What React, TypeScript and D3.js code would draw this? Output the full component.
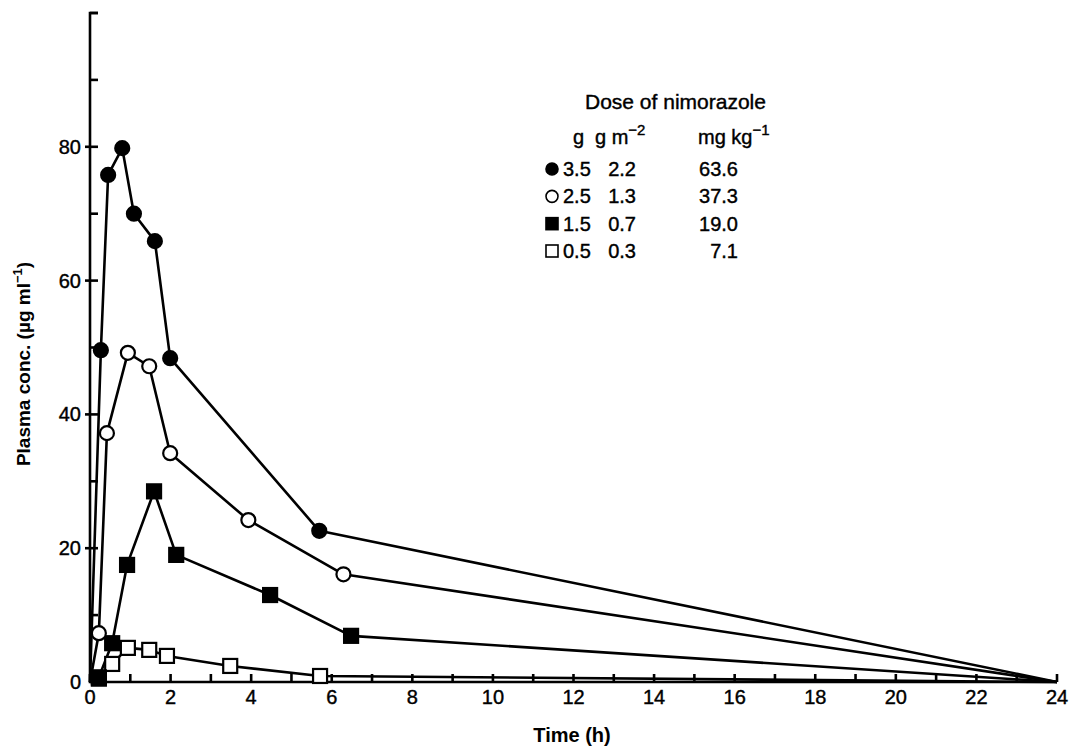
import React, { useRef, useEffect } from 'react';
import * as d3 from 'd3';

// tick values
const xMinorTicks = d3.range(0, 25, 1);
const xLabelTicks = [0, 2, 4, 6, 8, 10, 12, 14, 16, 18, 20, 22, 24];
const yMinorTicks = [10, 30, 50, 70, 90, 100];
const yLabelTicks = [0, 20, 40, 60, 80];

// 3.5 g  (filled circles)
const dose35Time = [0.27, 0.45, 0.8, 1.09, 1.61, 1.99, 5.69];
const dose35Conc = [49.6, 75.8, 79.8, 70.0, 65.9, 48.4, 22.6];

// 2.5 g  (open circles)
const dose25Time = [0.22, 0.42, 0.94, 1.47, 1.99, 3.93, 6.29];
const dose25Conc = [7.3, 37.2, 49.2, 47.2, 34.2, 24.2, 16.1];

// 1.5 g  (filled squares)
const dose15Time = [0.22, 0.55, 0.92, 1.59, 2.14, 4.47, 6.48];
const dose15Conc = [0.7, 5.8, 17.5, 28.5, 19.0, 13.0, 6.9];

// 0.5 g  (open squares)
const dose05Time = [0.22, 0.55, 0.94, 1.47, 1.91, 3.48, 5.71];
const dose05Conc = [0.5, 2.7, 5.1, 4.8, 3.9, 2.4, 0.9];

// all curves start at 0 and come back to 0 at 24 h
const startPoint = [0, 0];
const endPoint = [24, 0];

const legendG = ['3.5', '2.5', '1.5', '0.5'];
const legendGm2 = ['2.2', '1.3', '0.7', '0.3'];
const legendMgKg = ['63.6', '37.3', '19.0', '7.1'];

const FONT = '"Liberation Sans", Arial, Helvetica, sans-serif';

function App() {
  const svgRef = useRef(null);

  useEffect(() => {
    const svg = d3.select(svgRef.current);
    svg.selectAll('*').remove();

    const width = 1077;
    const height = 746;

    const x = d3.scaleLinear().domain([0, 24]).range([90, 1057]);
    const y = d3.scaleLinear().domain([0, 100]).range([682, 13]);

    const series = [
      { time: dose35Time, conc: dose35Conc, shape: 'circle', filled: true },
      { time: dose25Time, conc: dose25Conc, shape: 'circle', filled: false },
      { time: dose15Time, conc: dose15Conc, shape: 'square', filled: true },
      { time: dose05Time, conc: dose05Conc, shape: 'square', filled: false },
    ];

    svg.append('rect').attr('width', width).attr('height', height).attr('fill', '#fff');

    // axes
    const axis = svg.append('g').attr('stroke', '#000').attr('stroke-width', 2.6).attr('fill', 'none');
    axis.append('path')
      .attr('d', `M${x(0) + 8},${y(100)} H${x(0)} V${y(0)} H${x(24)}`)
      .attr('stroke-linejoin', 'miter');

    axis.selectAll('.xt')
      .data(xMinorTicks)
      .join('line')
      .attr('x1', d => x(d))
      .attr('x2', d => x(d))
      .attr('y1', y(0))
      .attr('y2', y(0) - 8);

    axis.selectAll('.ym')
      .data(yMinorTicks)
      .join('line')
      .attr('x1', x(0))
      .attr('x2', x(0) + 8)
      .attr('y1', d => y(d))
      .attr('y2', d => y(d));

    axis.selectAll('.yl')
      .data(yLabelTicks.filter(d => d > 0))
      .join('line')
      .attr('x1', x(0) - 5)
      .attr('x2', x(0) + 8)
      .attr('y1', d => y(d))
      .attr('y2', d => y(d));

    // tick labels
    const tickText = svg.append('g')
      .attr('font-family', FONT)
      .attr('font-size', 20)
      .attr('stroke', '#000')
      .attr('stroke-width', 0.4);

    tickText.append('g')
      .selectAll('text')
      .data(xLabelTicks)
      .join('text')
      .attr('x', d => x(d))
      .attr('y', 704)
      .attr('text-anchor', 'middle')
      .text(d => d);

    tickText.append('g')
      .selectAll('text')
      .data(yLabelTicks)
      .join('text')
      .attr('x', 81)
      .attr('y', d => y(d) + 7)
      .attr('text-anchor', 'end')
      .text(d => d);

    // axis titles
    svg.append('text')
      .attr('x', 572)
      .attr('y', 742)
      .attr('text-anchor', 'middle')
      .attr('font-family', FONT)
      .attr('font-size', 20)
      .attr('font-weight', 'bold')
      .text('Time (h)');

    const yTitle = svg.append('text')
      .attr('transform', 'translate(30, 364) rotate(-90)')
      .attr('text-anchor', 'middle')
      .attr('font-family', FONT)
      .attr('font-size', 19)
      .attr('font-weight', 'bold');
    yTitle.append('tspan').text('Plasma conc. (µg ml');
    yTitle.append('tspan').attr('dy', -8).attr('font-size', 13).text('−1');
    yTitle.append('tspan').attr('dy', 8).text(')');

    // lines
    const line = d3.line().x(d => x(d[0])).y(d => y(d[1]));
    series.forEach(s => {
      const pts = [startPoint, ...s.time.map((t, i) => [t, s.conc[i]]), endPoint];
      svg.append('path')
        .attr('d', line(pts))
        .attr('fill', 'none')
        .attr('stroke', '#000')
        .attr('stroke-width', 2.6)
        .attr('stroke-linejoin', 'round');
    });

    // markers
    const drawMarker = (g, shape, filled, cx, cy) => {
      if (shape === 'circle') {
        g.append('circle')
          .attr('cx', cx).attr('cy', cy).attr('r', 7)
          .attr('fill', filled ? '#000' : '#fff')
          .attr('stroke', '#000').attr('stroke-width', 2.2);
      } else {
        g.append('rect')
          .attr('x', cx - 7).attr('y', cy - 7)
          .attr('width', 14).attr('height', 14)
          .attr('fill', filled ? '#000' : '#fff')
          .attr('stroke', '#000').attr('stroke-width', 2.2);
      }
    };

    const markers = svg.append('g');
    [...series].reverse().forEach(s => {
      s.time.forEach((t, i) => drawMarker(markers, s.shape, s.filled, x(t), y(s.conc[i])));
    });

    // legend
    const leg = svg.append('g')
      .attr('font-family', FONT)
      .attr('font-size', 20)
      .attr('stroke', '#000')
      .attr('stroke-width', 0.4);
    leg.append('text').attr('x', 585).attr('y', 109).attr('font-size', 21).text('Dose of nimorazole');

    leg.append('text').attr('x', 573).attr('y', 144).text('g');
    const h2 = leg.append('text').attr('x', 595).attr('y', 144);
    h2.append('tspan').text('g m');
    h2.append('tspan').attr('dy', -9).attr('font-size', 15).text('−2');
    const h3 = leg.append('text').attr('x', 698).attr('y', 144);
    h3.append('tspan').text('mg kg');
    h3.append('tspan').attr('dy', -9).attr('font-size', 15).text('−1');

    const rowY = d3.scaleLinear().domain([0, 3]).range([169, 251]);
    series.forEach((s, i) => {
      const cy = rowY(i);
      if (s.shape === 'circle') {
        leg.append('circle').attr('cx', 552).attr('cy', cy).attr('r', 6)
          .attr('fill', s.filled ? '#000' : '#fff').attr('stroke', '#000').attr('stroke-width', 1.6);
      } else {
        leg.append('rect').attr('x', 546).attr('y', cy - 6).attr('width', 12).attr('height', 12)
          .attr('fill', s.filled ? '#000' : '#fff').attr('stroke', '#000').attr('stroke-width', 1.6);
      }
      leg.append('text').attr('x', 563).attr('y', cy + 7).text(legendG[i]);
      leg.append('text').attr('x', 636).attr('y', cy + 7).attr('text-anchor', 'end').text(legendGm2[i]);
      leg.append('text').attr('x', 738).attr('y', cy + 7).attr('text-anchor', 'end').text(legendMgKg[i]);
    });
  }, []);

  return (
    <svg
      ref={svgRef}
      width={1077}
      height={746}
      style={{ position: 'absolute', left: 0, top: 0 }}
    ></svg>
  );
}

export default App;
